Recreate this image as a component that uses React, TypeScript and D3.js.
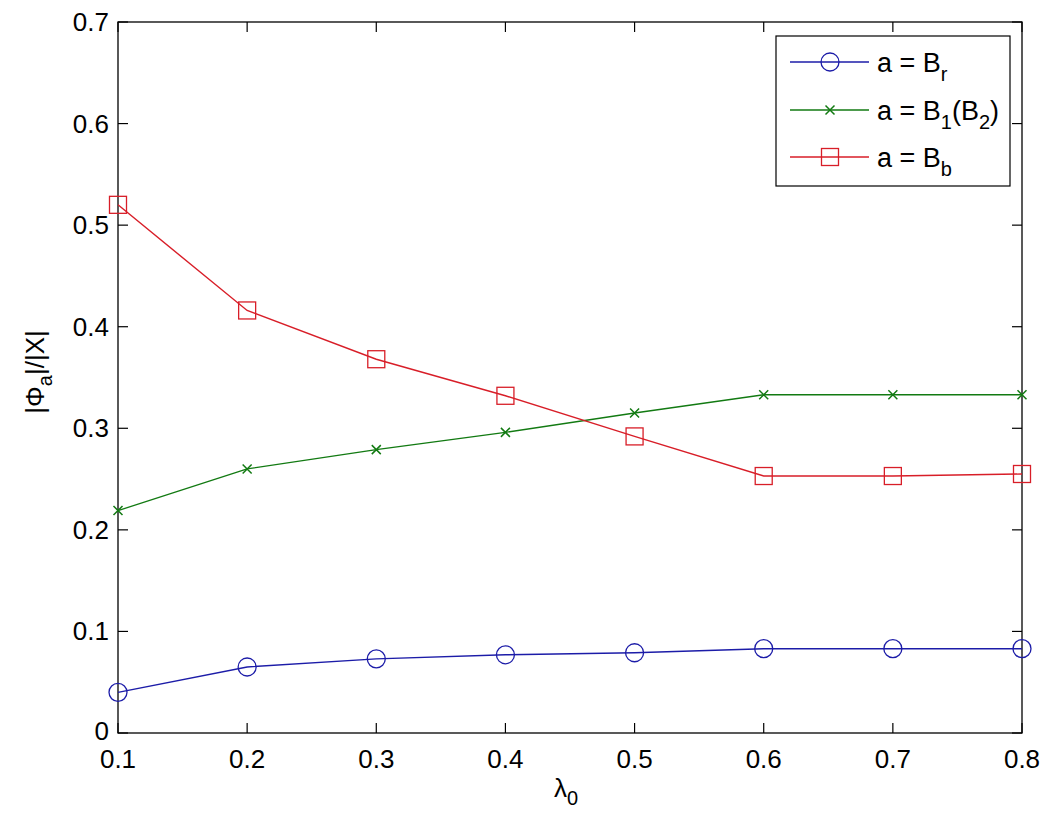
import React, { useEffect, useRef } from 'react';
import * as d3 from 'd3';

const lambdas = [0.1, 0.2, 0.3, 0.4, 0.5, 0.6, 0.7, 0.8];
const seriesBr = [0.040, 0.065, 0.073, 0.077, 0.079, 0.083, 0.083, 0.083];
const seriesB12 = [0.219, 0.260, 0.279, 0.296, 0.315, 0.333, 0.333, 0.333];
const seriesBb = [0.520, 0.416, 0.368, 0.332, 0.292, 0.253, 0.253, 0.255];
const xTicks = [0.1, 0.2, 0.3, 0.4, 0.5, 0.6, 0.7, 0.8];
const yTicks = [0, 0.1, 0.2, 0.3, 0.4, 0.5, 0.6, 0.7];

const BLUE = '#1c1ca8';
const GREEN = '#127a12';
const RED = '#d81e28';
const FONT = '"Liberation Sans", Arial, sans-serif';

const App: React.FC = () => {
  const svgRef = useRef<SVGSVGElement | null>(null);

  useEffect(() => {
    const svg = d3.select(svgRef.current);
    svg.selectAll('*').remove();
    const width = 1060;
    const height = 822;
    const margin = { top: 22, right: 38, bottom: 89, left: 118 };

    svg.attr('width', width).attr('height', height);

    const x = d3.scaleLinear()
      .domain([0.1, 0.8])
      .range([margin.left, width - margin.right]);

    const y = d3.scaleLinear()
      .domain([0, 0.7])
      .range([height - margin.bottom, margin.top]);

    svg.append('rect')
      .attr('width', width).attr('height', height).attr('fill', '#fff');

    // Ticks (inside, all four sides)
    const tl = 10;
    const g = svg.append('g').attr('stroke', '#000').attr('stroke-width', 1.2);
    xTicks.forEach(t => {
      g.append('line').attr('x1', x(t)).attr('x2', x(t))
        .attr('y1', y(0)).attr('y2', y(0) - tl);
      g.append('line').attr('x1', x(t)).attr('x2', x(t))
        .attr('y1', y(0.7)).attr('y2', y(0.7) + tl);
    });
    yTicks.forEach(t => {
      g.append('line').attr('x1', x(0.1)).attr('x2', x(0.1) + tl)
        .attr('y1', y(t)).attr('y2', y(t));
      g.append('line').attr('x1', x(0.8)).attr('x2', x(0.8) - tl)
        .attr('y1', y(t)).attr('y2', y(t));
    });

    // Box
    svg.append('rect')
      .attr('x', x(0.1)).attr('y', y(0.7))
      .attr('width', x(0.8) - x(0.1)).attr('height', y(0) - y(0.7))
      .attr('fill', 'none').attr('stroke', '#000').attr('stroke-width', 1.3);

    // Tick labels
    svg.append('g')
      .selectAll('text')
      .data(xTicks)
      .enter()
      .append('text')
      .attr('x', d => x(d))
      .attr('y', y(0) + 35)
      .attr('text-anchor', 'middle')
      .attr('font-family', FONT)
      .attr('font-size', 26)
      .text(d => d3.format('.1f')(d));

    svg.append('g')
      .selectAll('text')
      .data(yTicks)
      .enter()
      .append('text')
      .attr('x', x(0.1) - 9)
      .attr('y', d => y(d) + (d === 0 ? 7 : 9))
      .attr('text-anchor', 'end')
      .attr('font-family', FONT)
      .attr('font-size', 26)
      .text(d => (d === 0 ? '0' : d3.format('.1f')(d)));

    // Axis labels
    const xl = svg.append('text')
      .attr('x', (x(0.1) + x(0.8)) / 2 - 4)
      .attr('y', 797)
      .attr('text-anchor', 'middle')
      .attr('font-family', FONT)
      .attr('font-size', 26);
    xl.append('tspan').text('λ');
    xl.append('tspan').attr('dy', 8).attr('font-size', 20).text('0');

    const yl = svg.append('text')
      .attr('transform', `translate(44,${372}) rotate(-90)`)
      .attr('text-anchor', 'middle')
      .attr('font-family', FONT)
      .attr('font-size', 26);
    yl.append('tspan').text('|Φ');
    yl.append('tspan').attr('dy', 8).attr('font-size', 20).text('a');
    yl.append('tspan').attr('dy', -8).text('|/|X|');

    const line = d3.line<number>()
      .x((d, i) => x(lambdas[i]))
      .y(d => y(d));

    const drawCircle = (sel: any, cx: number, cy: number, color: string) => {
      sel.append('circle').attr('cx', cx).attr('cy', cy).attr('r', 9)
        .attr('fill', 'none').attr('stroke', color).attr('stroke-width', 1.3);
    };
    const drawCross = (sel: any, cx: number, cy: number, color: string) => {
      const s = 4.5;
      sel.append('path')
        .attr('d', `M${cx - s},${cy - s}L${cx + s},${cy + s}M${cx - s},${cy + s}L${cx + s},${cy - s}`)
        .attr('stroke', color).attr('stroke-width', 1.5).attr('fill', 'none');
    };
    const drawSquare = (sel: any, cx: number, cy: number, color: string) => {
      sel.append('rect').attr('x', cx - 8.5).attr('y', cy - 8.5)
        .attr('width', 17).attr('height', 17)
        .attr('fill', 'none').attr('stroke', color).attr('stroke-width', 1.3);
    };

    const series = [
      { values: seriesBr, color: BLUE, marker: drawCircle },
      { values: seriesB12, color: GREEN, marker: drawCross },
      { values: seriesBb, color: RED, marker: drawSquare },
    ];

    series.forEach(s => {
      const sg = svg.append('g');
      sg.append('path')
        .attr('d', line(s.values) as string)
        .attr('fill', 'none')
        .attr('stroke', s.color)
        .attr('stroke-width', 1.4);
      s.values.forEach((v, i) => s.marker(sg, x(lambdas[i]), y(v), s.color));
    });

    // Legend
    const lg = svg.append('g');
    lg.append('rect')
      .attr('x', 776).attr('y', 36).attr('width', 234).attr('height', 150)
      .attr('fill', '#fff').attr('stroke', '#000').attr('stroke-width', 1.2);
    const labels = [
      { main: 'a = B', parts: [{ t: 'r', sub: true }] },
      { main: 'a = B', parts: [{ t: '1', sub: true }, { t: '(B', sub: false }, { t: '2', sub: true }, { t: ')', sub: false }] },
      { main: 'a = B', parts: [{ t: 'b', sub: true }] },
    ];
    const rowY = [62, 110, 157];
    series.forEach((s, i) => {
      const ry = rowY[i];
      lg.append('line').attr('x1', 790).attr('x2', 869).attr('y1', ry).attr('y2', ry)
        .attr('stroke', s.color).attr('stroke-width', 1.4);
      s.marker(lg, 830, ry, s.color);
      const t = lg.append('text')
        .attr('x', 877).attr('y', ry + 10)
        .attr('font-family', FONT).attr('font-size', 27);
      t.append('tspan').text(labels[i].main);
      let sub = false;
      labels[i].parts.forEach(p => {
        const dy = p.sub === sub ? 0 : (p.sub ? 9 : -9);
        sub = p.sub;
        t.append('tspan').attr('dy', dy).attr('font-size', p.sub ? 20 : 27).text(p.t);
      });
    });
  }, []);

  return (
    <>
      <svg ref={svgRef} style={{ position: 'absolute', left: 0, top: 0 }}></svg>
    </>
  );
};

export default App;
